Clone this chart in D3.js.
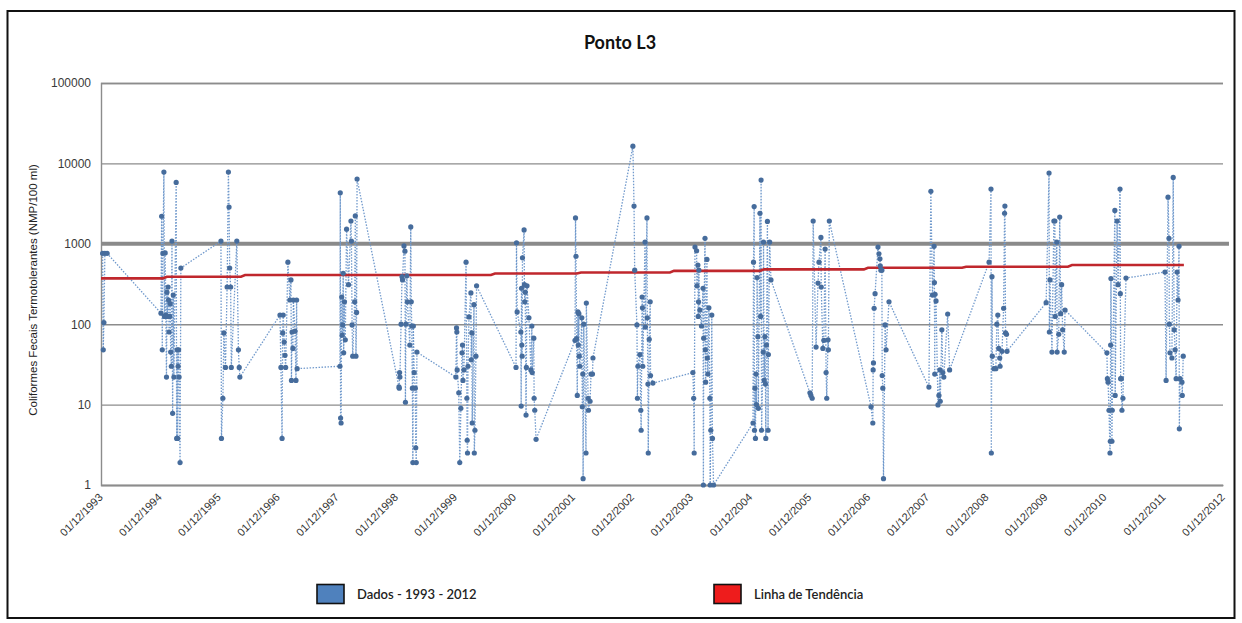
<!DOCTYPE html>
<html>
<head>
<meta charset="utf-8">
<script src="https://cdn.jsdelivr.net/npm/d3@7"></script>
<style>
  html, body { margin: 0; padding: 0; background: #fff; }
  svg { display: block; font-family: Lato, "Liberation Sans", sans-serif; }
</style>
</head>
<body>
<svg id="chart" width="1242" height="623"></svg>
<script>
// ---- data -------------------------------------------------------------
const chartTitle = 'Ponto L3';
const yTitle = 'Coliformes Fecais Termotolerantes (NMP/100 ml)';
const legendLabels = ['Dados - 1993 - 2012', 'Linha de Tendência'];

const xTickLabels = ['01/12/1993', '01/12/1994', '01/12/1995', '01/12/1996', '01/12/1997',
  '01/12/1998', '01/12/1999', '01/12/2000', '01/12/2001', '01/12/2002', '01/12/2003',
  '01/12/2004', '01/12/2005', '01/12/2006', '01/12/2007', '01/12/2008', '01/12/2009',
  '01/12/2010', '01/12/2011', '01/12/2012'];
const yTickValues = [1, 10, 100, 1000, 10000, 100000];

// each sampling season starts on 1 December; samples are given as days after that date
const seasonYears = [1993, 1994, 1995, 1996, 1997, 1998, 1999, 2000, 2001, 2002,
  2003, 2004, 2005, 2006, 2007, 2008, 2009, 2010, 2011];

const sampleDays = [
  [10, 14, 18, 24, 38],
  [6, 10, 14, 18, 24, 28, 32, 36, 40, 43, 46, 50, 53, 56, 60, 63, 66, 70, 74, 78, 82, 86, 100, 103, 106, 109, 112, 115, 118, 124, 129],
  [12, 15, 24, 30, 40, 50, 58, 62, 66, 72, 76, 110, 120, 125, 129],
  [11, 17, 24, 28, 31, 37, 42, 46, 60, 72, 79, 82, 86, 91, 94, 104, 110, 114, 117],
  [17, 19, 21, 24, 28, 31, 34, 37, 40, 45, 50, 58, 70, 85, 88, 92, 96, 108, 112, 116, 120, 123],
  [17, 19, 21, 23, 30, 36, 39, 48, 54, 57, 60, 66, 69, 84, 90, 93, 96, 100, 103, 106, 111, 118, 121, 124, 128],
  [4, 8, 10, 12, 22, 28, 35, 42, 45, 48, 54, 67, 72, 74, 76, 79, 85, 97, 99, 103, 105, 116, 118, 122, 128, 132],
  [10, 13, 17, 40, 42, 44, 46, 48, 50, 60, 62, 64, 67, 72, 74, 78, 90, 102, 108, 110, 120, 122, 126, 134],
  [10, 13, 16, 20, 24, 28, 30, 34, 36, 40, 52, 55, 58, 60, 64, 78, 80, 91, 93, 103, 109, 118, 121],
  [3, 10, 14, 28, 31, 34, 46, 52, 54, 60, 62, 64, 78, 80, 90, 92, 96, 98, 104, 110, 112, 127],
  [9, 14, 17, 22, 32, 34, 40, 42, 44, 46, 52, 62, 72, 74, 76, 84, 86, 88, 96, 98, 102, 108, 114, 116, 120, 126, 130, 137],
  [15, 18, 22, 24, 27, 30, 33, 36, 40, 45, 48, 58, 62, 65, 68, 78, 80, 84, 88, 92, 94, 98, 104, 108, 110, 118, 126],
  [2, 8, 16, 22, 40, 52, 58, 70, 72, 82, 88, 96, 102, 106, 114, 116, 122],
  [15, 26, 28, 30, 34, 40, 58, 64, 70, 72, 76, 82, 84, 88, 92, 102, 108, 126],
  [8, 20, 30, 40, 42, 44, 46, 52, 64, 70, 76, 78, 88, 94, 100, 124, 136],
  [14, 26, 28, 32, 34, 44, 56, 62, 68, 74, 80, 82, 94, 104, 110, 112, 116, 122, 125],
  [2, 20, 22, 26, 38, 50, 56, 58, 68, 70, 80, 86, 92, 98, 104, 114, 119],
  [13, 16, 20, 26, 32, 34, 36, 38, 44, 46, 62, 64, 76, 82, 94, 96, 98, 102, 106, 112, 131],
  [7, 14, 26, 32, 34, 38, 50, 58, 64, 70, 76, 82, 88, 94, 96, 100, 112, 114, 120]
];

const sampleValues = [
  [760, 48, 105, 760, 760],
  [137, 2200, 48, 760, 7800, 125, 770, 130, 22, 250, 125, 290, 200, 80, 125, 180, 45, 30, 1080, 7.8, 230, 22, 5800, 3.8, 48, 3.8, 30, 48, 22, 1.9, 500],
  [1080, 3.8, 12, 78, 29, 290, 7800, 2870, 500, 290, 29, 1080, 48, 29, 22],
  [130, 29, 3.8, 78, 130, 60, 41, 29, 590, 200, 355, 20, 80, 50, 200, 82, 20, 200, 28],
  [30, 4300, 6.8, 5.9, 218, 73, 98, 430, 44, 190, 64, 1520, 310, 1920, 1080, 98, 40, 190, 2220, 40, 140, 6400],
  [16.6, 16, 25, 22, 100, 390, 355, 940, 810, 10.7, 100, 400, 190, 55, 1620, 190, 95, 16, 1.9, 95, 25, 16, 2.9, 1.9, 45],
  [22, 90, 80, 27, 14, 1.9, 9, 44, 55, 20, 27, 590, 12, 3.6, 2.5, 30, 123, 245, 36, 78, 5.9, 175, 2.5, 4.8, 40, 300],
  [29, 1030, 142, 80, 9.6, 280, 55, 40, 670, 1490, 310, 190, 250, 7.4, 29, 300, 120, 27, 95, 25, 67, 12, 8.5, 3.7],
  [63, 2100, 700, 66, 13, 142, 55, 135, 40, 30, 120, 9.4, 24, 1.2, 100, 2.5, 183, 12, 8.5, 11, 24, 24, 38],
  [16400, 2950, 470, 98, 12, 30, 42, 8.5, 4.8, 218, 160, 30, 1050, 92, 2100, 120, 18, 2.5, 65, 190, 23, 18.5],
  [25, 12, 2.5, 910, 820, 300, 545, 125, 190, 470, 150, 95, 280, 1, 67, 1170, 48, 19, 640, 38, 24, 160, 12, 1, 4.8, 130, 3.8, 1],
  [5.9, 590, 2900, 4.8, 16, 3.8, 24, 10, 380, 70, 9, 2400, 125, 6200, 4.8, 45, 1050, 20, 70, 18, 3.8, 55, 1900, 4.8, 42, 1050, 355],
  [14, 13, 12, 1920, 52, 325, 590, 1200, 290, 50, 63, 860, 25, 12, 64, 48, 1920],
  [9.4, 5.9, 27, 33, 158, 240, 910, 750, 650, 530, 470, 470, 23, 16, 1.2, 98, 48, 190],
  [16.5, 4500, 230, 930, 330, 24, 235, 195, 9.9, 13, 27, 11, 85, 25, 22, 134, 27],
  [590, 4800, 2.5, 390, 40, 28, 28, 100, 130, 50, 38, 30, 46, 158, 2400, 2950, 78, 75, 46],
  [185, 7600, 80, 355, 45, 1920, 1920, 125, 1050, 45, 75, 2150, 135, 310, 85, 45, 150],
  [44, 21, 19, 8.5, 2.5, 3.5, 55, 370, 3.5, 8.5, 2600, 13, 1920, 310, 4800, 240, 21, 21, 8.5, 12, 375],
  [445, 20, 3800, 1170, 100, 44, 38, 6700, 85, 48, 21, 445, 200, 930, 5, 21, 19, 13, 40]
];

// reference limit (1000 NMP/100 ml)
const limitDates = ['01/12/1993', '07/01/2013'];
const limitValue = 1000;

// trend line
const trendDates = ['01/12/1993', '19/12/1994', '13/01/1995', '15/04/1996', '10/05/1996',
  '09/07/2000', '03/08/2000', '23/12/2001', '17/01/2002', '21/07/2003', '15/08/2003',
  '28/01/2005', '22/02/2005', '02/11/2006', '27/11/2006', '01/07/2008', '26/07/2008',
  '17/04/2010', '12/05/2010', '03/04/2012'];
const trendValues = [372, 372, 390, 390, 409, 409, 428, 428, 440, 440, 461, 461, 481, 481,
  504, 504, 519, 519, 545, 545];

// ---- layout -----------------------------------------------------------
const parseDate = d3.timeParse('%d/%m/%Y');
const plot = { left: 101, right: 1223, top: 83, bottom: 485 };

const svg = d3.select('#chart');

const x = d3.scaleTime()
  .domain([parseDate(xTickLabels[0]), parseDate(xTickLabels[xTickLabels.length - 1])])
  .range([plot.left, plot.right]);
const y = d3.scaleLog()
  .domain([yTickValues[0], yTickValues[yTickValues.length - 1]])
  .range([plot.bottom, plot.top]);

// outer frame
svg.append('rect')
  .attr('x', 7.5).attr('y', 11).attr('width', 1227).attr('height', 607)
  .attr('fill', '#fff').attr('stroke', '#111').attr('stroke-width', 2);

// title
svg.append('text')
  .attr('x', 620).attr('y', 49)
  .attr('text-anchor', 'middle')
  .attr('font-size', 18).attr('font-weight', 700).attr('fill', '#111')
  .text(chartTitle);

// horizontal grid + y axis labels
const yAxis = d3.axisLeft(y)
  .tickValues(yTickValues)
  .tickFormat(d3.format('d'))
  .tickSize(-(plot.right - plot.left))
  .tickPadding(10);
const gy = svg.append('g')
  .attr('transform', `translate(${plot.left},0)`)
  .call(yAxis);
gy.select('.domain').attr('stroke', '#8c8c8c').attr('stroke-width', 1.4);
gy.selectAll('.tick line').attr('stroke', '#8c8c8c').attr('stroke-width', 1.4);
gy.selectAll('.tick text')
  .attr('font-family', '"Liberation Sans", Arial, sans-serif')
  .attr('font-size', 12).attr('fill', '#3a3a3a');

// x axis labels (rotated)
const xTicks = xTickLabels.map(parseDate);
const xAxis = d3.axisBottom(x)
  .tickValues(xTicks)
  .tickFormat(d3.timeFormat('%d/%m/%Y'))
  .tickSize(0)
  .tickPadding(0);
const gx = svg.append('g')
  .attr('transform', `translate(0,${plot.bottom})`)
  .call(xAxis);
gx.select('.domain').attr('stroke', '#8c8c8c').attr('stroke-width', 1.4);
gx.selectAll('.tick text')
  .attr('font-size', 11).attr('fill', '#333')
  .attr('text-anchor', 'end')
  .attr('dy', 0)
  .attr('y', 0)
  .attr('transform', 'translate(2,13) rotate(-45)');

// y axis title
svg.append('text')
  .attr('transform', 'translate(37,290) rotate(-90)')
  .attr('text-anchor', 'middle')
  .attr('font-family', '"Liberation Sans", Arial, sans-serif')
  .attr('font-size', 11.5).attr('fill', '#222')
  .text(yTitle);

// limit line at 1000
svg.append('line')
  .attr('x1', x(parseDate(limitDates[0]))).attr('x2', x(parseDate(limitDates[1])))
  .attr('y1', y(limitValue)).attr('y2', y(limitValue))
  .attr('stroke', '#8a8a8a').attr('stroke-width', 4);

// samples
const samples = [];
seasonYears.forEach((yr, i) => {
  const start = new Date(yr, 11, 1);
  sampleDays[i].forEach((d, j) => {
    samples.push({ date: d3.timeDay.offset(start, d), value: sampleValues[i][j] });
  });
});

const line = d3.line().x(d => x(d.date)).y(d => y(d.value));

svg.append('path')
  .datum(samples)
  .attr('d', line)
  .attr('fill', 'none')
  .attr('stroke', '#7099cc')
  .attr('stroke-width', 1.3)
  .attr('stroke-dasharray', '1.5,1.5');

// trend line
const trend = trendDates.map((d, i) => ({ date: parseDate(d), value: trendValues[i] }));
svg.append('path')
  .datum(trend)
  .attr('d', line)
  .attr('fill', 'none')
  .attr('stroke', '#c0272d')
  .attr('stroke-width', 2.6);

svg.append('g')
  .selectAll('circle')
  .data(samples)
  .join('circle')
  .attr('cx', d => x(d.date))
  .attr('cy', d => y(d.value))
  .attr('r', 2.6)
  .attr('fill', '#466c9c');

// legend
const legendColors = ['#4f81bd', '#ee1c1c'];
const legendX = [317, 714];
legendLabels.forEach((lab, i) => {
  svg.append('rect')
    .attr('x', legendX[i]).attr('y', 584.5).attr('width', 27).attr('height', 19)
    .attr('fill', legendColors[i]).attr('stroke', '#111').attr('stroke-width', 1.6);
  svg.append('text')
    .attr('x', legendX[i] + 40).attr('y', 598.5)
    .attr('font-size', 13).attr('font-weight', 600).attr('fill', '#222')
    .text(lab);
});
</script>
</body>
</html>
